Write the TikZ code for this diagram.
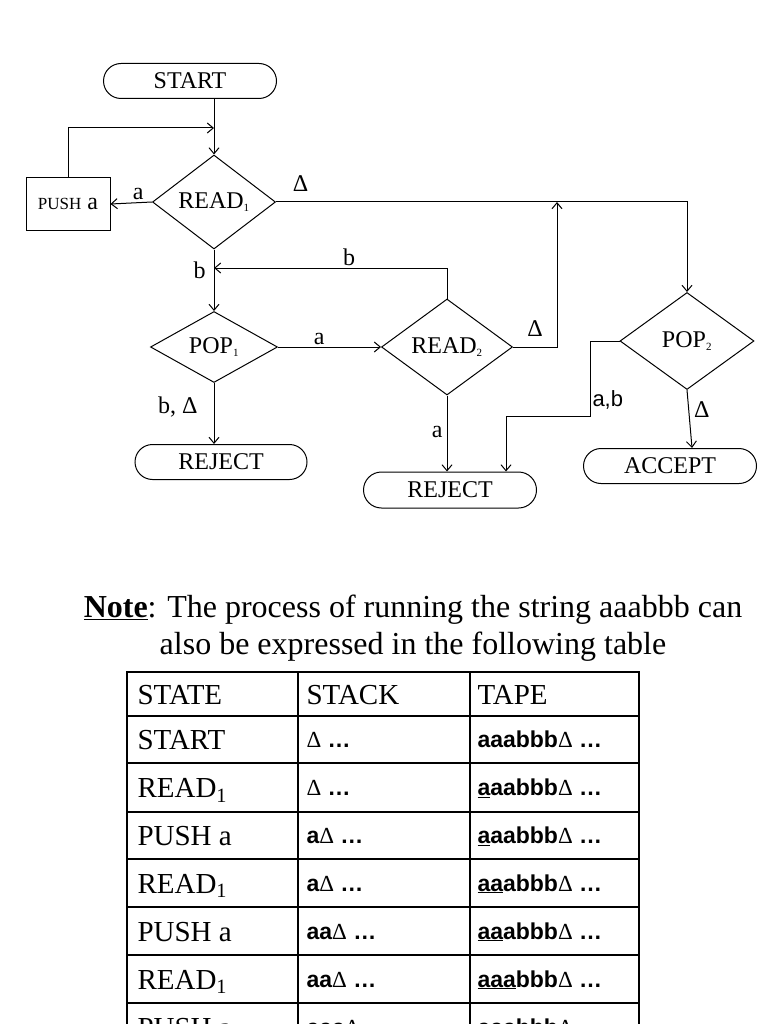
\documentclass[tikz,border=0pt]{standalone}
\usepackage{fontspec}
\setmainfont{Liberation Serif}
\newfontfamily\tapefont{Liberation Sans}
\usetikzlibrary{shapes.geometric,shapes.misc,arrows.meta,calc}
\newcommand{\blank}{{\normalfont Δ}}
\newcommand{\idx}[1]{\textsubscript{\fontsize{11}{12}\selectfont #1}}

\begin{document}
\begin{tikzpicture}[
    x=1pt, y=-1pt,
    line width=1pt,
    font=\fontsize{24}{28}\selectfont,
    flow/.style={draw, -{Straight Barb[length=6pt,width=10pt]}},
    terminal/.style={rounded rectangle, draw, minimum width=173pt, minimum height=35pt, inner sep=0pt},
    decision/.style={diamond, draw, inner sep=0pt},
    process/.style={rectangle, draw, minimum width=84pt, minimum height=53pt, inner sep=0pt},
    lbl/.style={inner sep=2pt},
    notetext/.style={anchor=base, inner sep=0pt, font=\fontsize{32}{37}\selectfont},
    cell/.style={anchor=base west, inner sep=0pt, yshift=-10pt, font=\fontsize{29}{34}\selectfont},
    tape/.style={anchor=base west, inner sep=0pt, yshift=-8pt, font=\fontsize{23}{27}\selectfont\tapefont\bfseries},
    rule/.style={line width=1.2pt},
    frame/.style={line width=2.4pt}
]
    \useasboundingbox (0,0) rectangle (768,1024);

    % flowchart
    \node[terminal] (start) at (190,81) {START};
    \node[decision, minimum width=123pt, minimum height=94pt] (read1) at (214,202) {\makebox[0pt]{READ\idx{1}}};
    \node[process] (push) at (68,204) {{\fontsize{17}{20}\selectfont PUSH} a};
    \node[decision, minimum width=127pt, minimum height=71pt] (pop1) at (214,347) {\makebox[0pt]{POP\idx{1}}};
    \node[decision, minimum width=131pt, minimum height=96pt] (read2) at (447,347) {\makebox[0pt]{READ\idx{2}}};
    \node[decision, minimum width=134pt, minimum height=97pt] (pop2) at (687,341) {\makebox[0pt]{POP\idx{2}}};
    \node[terminal, minimum width=172pt] (reject1) at (221,462) {REJECT};
    \node[terminal, minimum height=36pt] (reject2) at (450,490) {REJECT};
    \node[terminal] (accept) at (670,466) {ACCEPT};

    \coordinate (join) at (214,128);
    \coordinate (merge) at (557,202);
    \coordinate (back) at (214,268);
    \coordinate (bend) at (590,416);

    \draw[flow] (start.south -| read1.north) -- (read1.north);
    \draw[flow] (push.north) |- (join);
    \draw[flow] (read1.west) -- node[lbl, pos=0.33, above] {a} (push.east);
    \draw[flow] (read1.east) -| node[lbl, pos=0.03, above=8pt] {Δ} (pop2.north);
    \draw[flow] (read1.south) -- node[lbl, pos=0.33, left=6pt] {b} (pop1.north);
    \draw[flow] (read2.north) |- node[lbl, pos=0.71, above] {b} (back);
    \draw[flow] (pop1.east) -- node[lbl, pos=0.4, above] {a} (read2.west);
    \draw[flow] (read2.east) -| node[lbl, pos=0.25, above=8pt] {Δ} (merge);
    \draw[flow] (pop1.south) -- node[lbl, pos=0.4, left=14pt] {b, Δ} (pop1.south |- reject1.north);
    \draw[flow] (read2.south) -- node[lbl, pos=0.48, left=2pt] {a} (read2.south |- reject2.north);
    \draw[flow] (pop2.west) -| node[lbl, pos=0.89, right, font=\fontsize{22}{26}\selectfont\tapefont] {a,b} (bend) -| ([xshift=56pt]reject2.north);
    \draw[flow] (pop2.south) -- node[lbl, pos=0.34, right=3pt] {Δ} ([xshift=22pt]accept.north);

    % note
    \node[notetext] (note1) at (413,617) {\underline{\textbf{Note}}: The process of running the string aaabbb can};
    \node[notetext] (note2) at (413,654) {also be expressed in the following table};

    % table
    \foreach \y in {716,763,812,859,907,955,1003}
        \draw[rule] (127,\y) -- (639,\y);
    \draw[rule] (298,672) -- (298,1030);
    \draw[rule] (470,672) -- (470,1030);
    \draw[frame] (127,1030) -- (127,672) -- (639,672) -- (639,1030);

    \node[cell] (h1) at (137,694) {STATE};
    \node[cell] (h2) at (306,694) {STACK};
    \node[cell] (h3) at (477,694) {TAPE};

    \node[cell] (s1) at (137,739.5) {START};
    \node[tape] (k1) at (306,739.5) {\blank\ …};
    \node[tape] (t1) at (477,739.5) {aaabbb\blank\ …};

    \node[cell] (s2) at (137,787.5) {READ\textsubscript{1}};
    \node[tape] (k2) at (306,787.5) {\blank\ …};
    \node[tape] (t2) at (477,787.5) {\underline{a}aabbb\blank\ …};

    \node[cell] (s3) at (137,835.5) {PUSH a};
    \node[tape] (k3) at (306,835.5) {a\blank\ …};
    \node[tape] (t3) at (477,835.5) {\underline{a}aabbb\blank\ …};

    \node[cell] (s4) at (137,883) {READ\textsubscript{1}};
    \node[tape] (k4) at (306,883) {a\blank\ …};
    \node[tape] (t4) at (477,883) {\underline{aa}abbb\blank\ …};

    \node[cell] (s5) at (137,931) {PUSH a};
    \node[tape] (k5) at (306,931) {aa\blank\ …};
    \node[tape] (t5) at (477,931) {\underline{aa}abbb\blank\ …};

    \node[cell] (s6) at (137,979) {READ\textsubscript{1}};
    \node[tape] (k6) at (306,979) {aa\blank\ …};
    \node[tape] (t6) at (477,979) {\underline{aaa}bbb\blank\ …};

    \node[cell] (s7) at (137,1027) {PUSH a};
    \node[tape] (k7) at (306,1027) {aaa\blank\ …};
    \node[tape] (t7) at (477,1027) {\underline{aaa}bbb\blank\ …};
\end{tikzpicture}
\end{document}
